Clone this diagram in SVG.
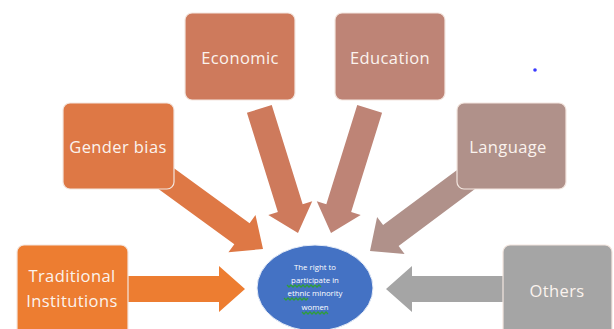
<svg xmlns="http://www.w3.org/2000/svg" width="614" height="329" viewBox="0 0 614 329">
<defs>
<style>
.box{stroke:#f3e6df;stroke-width:1.2}
.lbl{font-family:"Open Sans","Liberation Sans",sans-serif;font-size:16.5px;letter-spacing:0.4px;fill:#fbf3ee;text-anchor:middle;dominant-baseline:central}
.sm{font-family:"Open Sans","Liberation Sans",sans-serif;font-size:7.8px;fill:#ffffff;text-anchor:middle}
.sq{fill:none;stroke:#2f9e3a;stroke-width:1.3}
</style>
<polygon id="arr" points="0,0 -26,-23 -26,-13 -130,-13 -130,13 -26,13 -26,23"/>
</defs>
<rect width="614" height="329" fill="#ffffff"/>
<g id="connectors">
<use href="#arr" fill="#ED7D31" transform="translate(245,289)"/>
<use href="#arr" fill="#A5A5A5" transform="translate(386,289) rotate(180)"/>
<use href="#arr" fill="#DE7845" transform="translate(263,249) rotate(36)"/>
<use href="#arr" fill="#CE7A5C" transform="translate(298,233) rotate(72.7)"/>
<use href="#arr" fill="#BE8476" transform="translate(331,233) rotate(107.3)"/>
<use href="#arr" fill="#B0918A" transform="translate(370,251) rotate(143.3)"/>
</g>
<g id="traditional">
<rect class="box" x="17" y="245" width="111" height="95" rx="7" fill="#ED7D31"/>
<text class="lbl" x="72" y="275">Traditional</text>
<text class="lbl" x="72" y="300">Institutions</text>
</g>
<g id="gender">
<rect class="box" x="63" y="103" width="111" height="86" rx="7" fill="#DE7845"/>
<text class="lbl" x="118" y="146">Gender bias</text>
</g>
<g id="economic">
<rect class="box" x="185" y="13" width="110" height="87" rx="7" fill="#CE7A5C"/>
<text class="lbl" x="240" y="57">Economic</text>
</g>
<g id="education">
<rect class="box" x="335" y="13" width="110" height="87" rx="7" fill="#BE8476"/>
<text class="lbl" x="390" y="57">Education</text>
</g>
<g id="language">
<rect class="box" x="457" y="103" width="109" height="86" rx="7" fill="#B0918A"/>
<text class="lbl" x="508" y="146">Language</text>
</g>
<g id="others">
<rect class="box" x="503" y="245" width="109" height="95" rx="7" fill="#A5A5A5"/>
<text class="lbl" x="557" y="290">Others</text>
</g>
<g id="center">
<ellipse cx="315" cy="288" rx="58" ry="43" fill="#4472C4" stroke="#e8eef8" stroke-width="1"/>
<text class="sm" x="315" y="270">The right to</text>
<text class="sm" x="315" y="283">participate in</text>
<text class="sm" x="315" y="296">ethnic minority</text>
<text class="sm" x="315" y="310">women</text>
<path class="sq" d="M287,285 l2,2 l2,-2 l2,2 l2,-2 l2,2 l2,-2 l2,2 l2,-2 l2,2 l2,-2 l2,2 l2,-2 l2,2 l2,-2 l2,2 l2,-2 l2,2"/>
<path class="sq" d="M284,298 l2,2 l2,-2 l2,2 l2,-2 l2,2 l2,-2 l2,2 l2,-2 l2,2 l2,-2 l2,2 l2,-2"/>
<path class="sq" d="M302,312 l2,2 l2,-2 l2,2 l2,-2 l2,2 l2,-2 l2,2 l2,-2 l2,2 l2,-2 l2,2 l2,-2 l2,2"/>
</g>
<circle cx="535" cy="70" r="1.8" fill="#3a3aff"/>
</svg>
